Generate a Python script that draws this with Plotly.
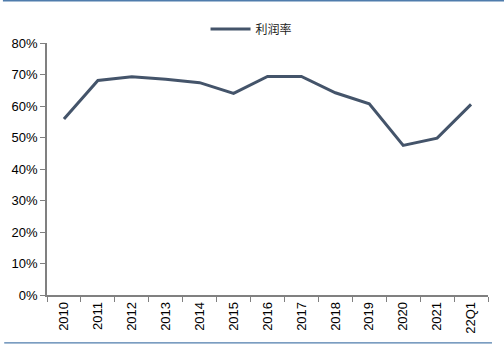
import plotly.graph_objects as go

# Profit margin by year
periods = ["2010", "2011", "2012", "2013", "2014", "2015", "2016",
           "2017", "2018", "2019", "2020", "2021", "22Q1"]
margin = [0.559, 0.681, 0.693, 0.685, 0.674, 0.640, 0.694,
          0.694, 0.642, 0.607, 0.475, 0.498, 0.605]
series_name = "利润率"

line_color = "#44546A"
axis_color = "#808080"
frame_color = "#4F7CAC"

fig = go.Figure()
fig.add_trace(go.Scatter(
    x=periods, y=margin, mode="lines", name=series_name,
    line=dict(color=line_color, width=3),
    showlegend=True,
))

fig.update_layout(
    width=504, height=347,
    margin=dict(l=44, r=16, t=43, b=52),
    paper_bgcolor="white", plot_bgcolor="white",
    font=dict(family="Liberation Sans, Arial, sans-serif", size=13, color="black"),
    showlegend=True,
    legend=dict(
        orientation="h", x=0.3595, xanchor="left", y=1.056, yanchor="middle",
        itemwidth=40,
        font=dict(family="Noto Sans CJK SC", size=12, color="#222222"),
        bgcolor="rgba(0,0,0,0)",
    ),
    xaxis=dict(
        type="category", tickangle=-90,
        showline=True, linecolor=axis_color, linewidth=1.5,
        ticks="outside", tickson="boundaries", ticklen=5, tickcolor=axis_color,
        showgrid=False, zeroline=False,
        range=[-0.5, len(periods) - 0.5],
    ),
    yaxis=dict(
        range=[0, 0.8], dtick=0.1, tickformat=".0%",
        showline=True, linecolor=axis_color, linewidth=1.5,
        ticks="outside", ticklen=5, tickcolor=axis_color,
        showgrid=False, zeroline=False,
    ),
    shapes=[
        dict(type="line", xref="paper", yref="paper",
             x0=-0.1, x1=1.04, y0=1.168, y1=1.168,
             line=dict(color=frame_color, width=1.5)),
        dict(type="line", xref="paper", yref="paper",
             x0=-0.097, x1=1.009, y0=-0.19, y1=-0.19,
             line=dict(color=frame_color, width=1.2)),
    ],
)

fig.write_html("out.html")
